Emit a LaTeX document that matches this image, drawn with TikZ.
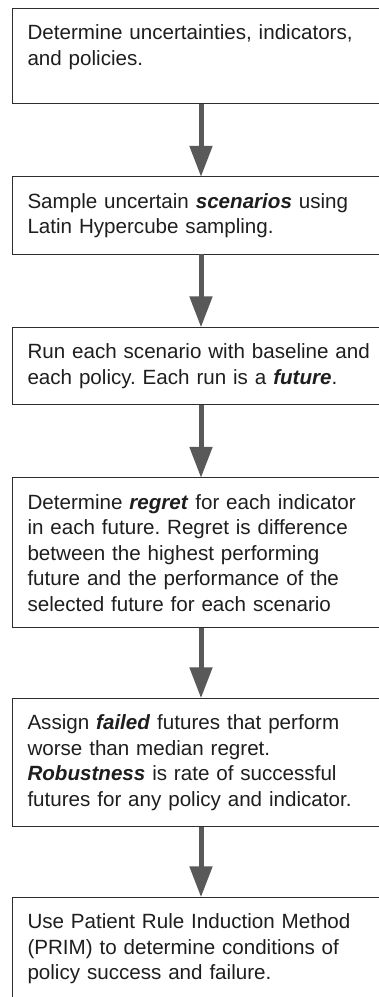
\documentclass[tikz,border=0pt]{standalone}
\usepackage{fontspec}
\setmainfont{Liberation Sans}
\usepackage{xcolor}
\usepackage{tikz}
\usetikzlibrary{arrows.meta, positioning}
\definecolor{BoxLine}{HTML}{2E2E2E}
\definecolor{ArrowGrey}{HTML}{595959}
\definecolor{TextDark}{HTML}{1E1E1E}
\newcommand{\term}[1]{\textbf{\textit{#1}}}

\begin{document}
\begin{tikzpicture}[x=1pt, y=1pt, node distance=73pt]
    \tikzstyle{stepbox} = [rectangle, draw=BoxLine, line width=1.2pt, fill=white, text=TextDark, text width=347pt, inner xsep=15pt, inner ysep=16.4pt, outer sep=0pt, align=left, font=\fontsize{20.6}{25.5}\selectfont\frenchspacing]
    \tikzstyle{line} = [draw, -{Triangle[width=22pt, length=31pt]}, line width=5pt, ArrowGrey]

    \useasboundingbox (0,0) rectangle (379,-997);

    \node [stepbox, text depth=47.6pt, anchor=north west] (s1) at (12.5,-8.5) {Determine uncertainties, indicators,\\and policies.};
    \node [stepbox, below=of s1] (s2) {Sample uncertain \term{scenarios} using\\Latin Hypercube sampling.};
    \node [stepbox, below=of s2] (s3) {Run each scenario with baseline and\\each policy. Each run is a \term{future}.};
    \node [stepbox, below=of s3] (s4) {Determine \term{regret} for each indicator\\in each future. Regret is difference\\between the highest performing\\future and the performance of the\\selected future for each scenario};
    \node [stepbox, below=70.5pt of s4] (s5) {Assign \term{failed} futures that perform\\worse than median regret.\\\term{Robustness} is rate of successful\\futures for any policy and indicator.};
    \node [stepbox, below=70.5pt of s5] (s6) {Use Patient Rule Induction Method\\(PRIM) to determine conditions of\\policy success and failure.};

    \path [line] (s1) -- (s2);
    \path [line] (s2) -- (s3);
    \path [line] (s3) -- (s4);
    \path [line] (s4) -- (s5);
    \path [line] (s5) -- (s6);
\end{tikzpicture}
\end{document}
